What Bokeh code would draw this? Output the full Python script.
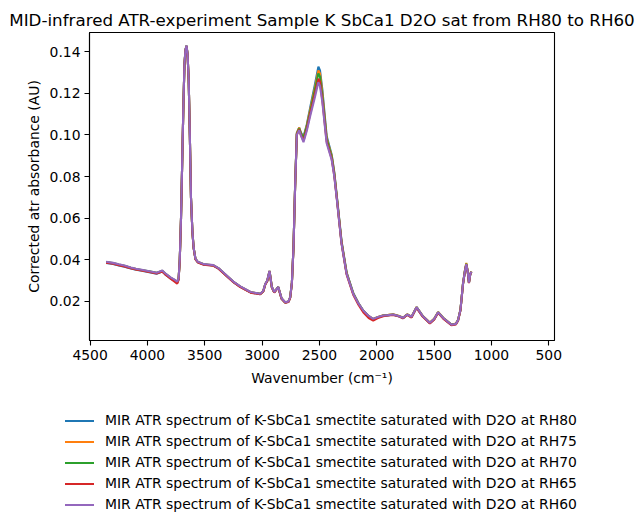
from bokeh.plotting import figure
from bokeh.layouts import column
from bokeh.models import Range1d, FixedTicker, PrintfTickFormatter, Div
from bokeh.embed import file_html
from bokeh.resources import INLINE

wavenumber = [4360, 4300, 4250, 4200, 4145, 4100, 4050, 3973, 3920, 3870, 3845, 3798, 3760, 3740, 3728,
              3718, 3707, 3697, 3687, 3677, 3668, 3659, 3650, 3640, 3630, 3620, 3608, 3597, 3581, 3560,
              3509, 3470, 3424, 3380, 3306, 3250, 3190, 3100, 3016, 2990, 2972, 2955, 2935, 2915, 2894,
              2859, 2830, 2798, 2770, 2755, 2740, 2726, 2712, 2697, 2677, 2660, 2639, 2610, 2581, 2540,
              2509, 2495, 2475, 2437, 2393, 2370, 2350, 2307, 2263, 2205, 2160, 2118, 2070, 2031, 1990,
              1944, 1900, 1857, 1810, 1770, 1735, 1697, 1653, 1600, 1537, 1500, 1465, 1420, 1349, 1310,
              1291, 1270, 1248, 1230, 1219, 1206, 1196, 1185, 1175]

rh80 = [0.0385, 0.0380, 0.0373, 0.0367, 0.0358, 0.0352, 0.0347, 0.0339, 0.0333, 0.0344, 0.0330, 0.0310, 0.0298, 0.0290, 0.0306,
        0.0398, 0.0598, 0.0858, 0.1118, 0.1338, 0.1408, 0.1426, 0.1386, 0.1262, 0.0998, 0.0698, 0.0538, 0.0457, 0.0403, 0.0388,
        0.0377, 0.0375, 0.0372, 0.0358, 0.0321, 0.0293, 0.0270, 0.0243, 0.0235, 0.0248, 0.0282, 0.0298, 0.0345, 0.0268, 0.0243,
        0.0268, 0.0213, 0.0194, 0.0198, 0.0218, 0.0290, 0.0462, 0.0755, 0.1010, 0.1035, 0.1010, 0.0990, 0.1050, 0.1130, 0.1240,
        0.1328, 0.1310, 0.1220, 0.0995, 0.0905, 0.0820, 0.0715, 0.0490, 0.0340, 0.0240, 0.0192, 0.0156, 0.0128, 0.0112, 0.0123,
        0.0131, 0.0133, 0.0136, 0.0129, 0.0119, 0.0136, 0.0124, 0.0171, 0.0128, 0.0095, 0.0113, 0.0147, 0.0118, 0.0087, 0.0091,
        0.0109, 0.0159, 0.0283, 0.0350, 0.0378, 0.0339, 0.0289, 0.0329, 0.0342]

rh75 = [0.0388, 0.0383, 0.0376, 0.0370, 0.0361, 0.0355, 0.0350, 0.0342, 0.0336, 0.0346, 0.0333, 0.0313, 0.0300, 0.0292, 0.0308,
        0.0399, 0.0599, 0.0859, 0.1119, 0.1339, 0.1409, 0.1428, 0.1388, 0.1263, 0.0999, 0.0699, 0.0539, 0.0458, 0.0404, 0.0389,
        0.0378, 0.0376, 0.0373, 0.0359, 0.0322, 0.0294, 0.0271, 0.0244, 0.0236, 0.0249, 0.0283, 0.0299, 0.0346, 0.0269, 0.0244,
        0.0269, 0.0214, 0.0195, 0.0199, 0.0219, 0.0290, 0.0461, 0.0753, 0.1008, 0.1035, 0.1005, 0.0985, 0.1045, 0.1120, 0.1225,
        0.1310, 0.1295, 0.1205, 0.0985, 0.0900, 0.0815, 0.0710, 0.0485, 0.0337, 0.0238, 0.0191, 0.0155, 0.0129, 0.0115, 0.0125,
        0.0133, 0.0135, 0.0138, 0.0131, 0.0122, 0.0138, 0.0126, 0.0173, 0.0131, 0.0098, 0.0116, 0.0149, 0.0121, 0.0089, 0.0093,
        0.0111, 0.0161, 0.0286, 0.0354, 0.0385, 0.0342, 0.0292, 0.0332, 0.0344]

rh70 = [0.0389, 0.0384, 0.0377, 0.0371, 0.0362, 0.0356, 0.0351, 0.0343, 0.0337, 0.0347, 0.0334, 0.0314, 0.0302, 0.0294, 0.0309,
        0.0399, 0.0599, 0.0859, 0.1119, 0.1339, 0.1409, 0.1429, 0.1389, 0.1264, 0.0999, 0.0699, 0.0539, 0.0458, 0.0404, 0.0389,
        0.0378, 0.0376, 0.0373, 0.0359, 0.0322, 0.0294, 0.0271, 0.0244, 0.0236, 0.0249, 0.0283, 0.0299, 0.0346, 0.0269, 0.0244,
        0.0269, 0.0214, 0.0195, 0.0199, 0.0219, 0.0290, 0.0460, 0.0752, 0.1005, 0.1030, 0.1005, 0.0985, 0.1040, 0.1110, 0.1215,
        0.1295, 0.1280, 0.1190, 0.0980, 0.0895, 0.0810, 0.0708, 0.0482, 0.0335, 0.0237, 0.0190, 0.0155, 0.0129, 0.0115, 0.0124,
        0.0132, 0.0134, 0.0137, 0.0130, 0.0121, 0.0137, 0.0125, 0.0172, 0.0130, 0.0097, 0.0115, 0.0148, 0.0120, 0.0088, 0.0092,
        0.0110, 0.0160, 0.0285, 0.0351, 0.0381, 0.0340, 0.0290, 0.0330, 0.0343]

rh65 = [0.0386, 0.0381, 0.0374, 0.0368, 0.0359, 0.0353, 0.0348, 0.0340, 0.0334, 0.0343, 0.0330, 0.0309, 0.0294, 0.0285, 0.0303,
        0.0396, 0.0597, 0.0857, 0.1117, 0.1337, 0.1407, 0.1427, 0.1387, 0.1262, 0.0997, 0.0697, 0.0537, 0.0456, 0.0402, 0.0387,
        0.0376, 0.0374, 0.0371, 0.0357, 0.0320, 0.0292, 0.0269, 0.0242, 0.0234, 0.0247, 0.0281, 0.0297, 0.0344, 0.0267, 0.0242,
        0.0267, 0.0212, 0.0193, 0.0197, 0.0217, 0.0288, 0.0458, 0.0750, 0.1002, 0.1025, 0.0998, 0.0972, 0.1028, 0.1100, 0.1195,
        0.1270, 0.1255, 0.1170, 0.0968, 0.0885, 0.0803, 0.0703, 0.0478, 0.0330, 0.0232, 0.0184, 0.0148, 0.0120, 0.0108, 0.0120,
        0.0129, 0.0132, 0.0135, 0.0128, 0.0119, 0.0135, 0.0122, 0.0169, 0.0127, 0.0094, 0.0112, 0.0145, 0.0117, 0.0085, 0.0089,
        0.0107, 0.0157, 0.0282, 0.0348, 0.0377, 0.0338, 0.0288, 0.0328, 0.0341]

rh60 = [0.0390, 0.0385, 0.0378, 0.0372, 0.0363, 0.0357, 0.0352, 0.0344, 0.0338, 0.0348, 0.0335, 0.0315, 0.0303, 0.0295, 0.0310,
        0.0400, 0.0600, 0.0860, 0.1120, 0.1340, 0.1410, 0.1430, 0.1390, 0.1265, 0.1000, 0.0700, 0.0540, 0.0459, 0.0405, 0.0390,
        0.0379, 0.0377, 0.0374, 0.0360, 0.0323, 0.0295, 0.0272, 0.0245, 0.0237, 0.0250, 0.0284, 0.0300, 0.0347, 0.0270, 0.0245,
        0.0270, 0.0215, 0.0196, 0.0200, 0.0220, 0.0290, 0.0459, 0.0750, 0.1000, 0.1022, 0.0995, 0.0965, 0.1020, 0.1090, 0.1180,
        0.1253, 0.1235, 0.1160, 0.0960, 0.0880, 0.0800, 0.0700, 0.0476, 0.0332, 0.0236, 0.0190, 0.0156, 0.0130, 0.0116, 0.0125,
        0.0132, 0.0134, 0.0137, 0.0130, 0.0121, 0.0137, 0.0126, 0.0172, 0.0130, 0.0097, 0.0115, 0.0148, 0.0120, 0.0088, 0.0092,
        0.0110, 0.0160, 0.0284, 0.0350, 0.0379, 0.0340, 0.0290, 0.0330, 0.0343]

series = [rh80, rh75, rh70, rh65, rh60]
labels = ["MIR ATR spectrum of K-SbCa1 smectite saturated with D2O at RH80",
          "MIR ATR spectrum of K-SbCa1 smectite saturated with D2O at RH75",
          "MIR ATR spectrum of K-SbCa1 smectite saturated with D2O at RH70",
          "MIR ATR spectrum of K-SbCa1 smectite saturated with D2O at RH65",
          "MIR ATR spectrum of K-SbCa1 smectite saturated with D2O at RH60"]
colors = ["#1f77b4", "#ff7f0e", "#2ca02c", "#d62728", "#9467bd"]

x_ticks = [4500, 4000, 3500, 3000, 2500, 2000, 1500, 1000, 500]
y_ticks = [0.02, 0.04, 0.06, 0.08, 0.10, 0.12, 0.14]

title_text = "MID-infrared ATR-experiment Sample K SbCa1 D2O sat from RH80 to RH60"
x_label = "Wavenumber (cm\u207b\u00b9)"
y_label = "Corrected atr absorbance (AU)"

FONT = "DejaVu Sans"
W = 642
H1, H2 = 395, 132

p = figure(width=W, height=H1, output_backend="svg", toolbar_location=None,
           x_range=Range1d(4505, 450), y_range=Range1d(0.0012, 0.1492),
           min_border_left=89, min_border_right=88, min_border_top=32, min_border_bottom=H1 - 340,
           title=title_text)
p.background_fill_color = "white"
p.border_fill_color = "white"
p.outline_line_color = "black"
p.outline_line_width = 1.1
p.grid.visible = False

p.title.text_font = FONT
p.title.text_font_size = "16.7px"
p.title.text_font_style = "normal"
p.title.text_color = "black"
p.title.align = "center"
p.title.standoff = 5

for ys, col in zip(series, colors):
    p.line(wavenumber, ys, line_color=col, line_width=2.1)

for ax in (p.xaxis[0], p.yaxis[0]):
    ax.axis_line_color = "black"
    ax.axis_line_width = 1.1
    ax.major_tick_line_color = "black"
    ax.major_tick_line_width = 1.1
    ax.major_tick_out = 5
    ax.major_tick_in = 0
    ax.minor_tick_line_color = None
    ax.major_label_text_font = FONT
    ax.major_label_text_font_size = "13.9px"
    ax.major_label_text_color = "black"
    ax.axis_label_text_font = FONT
    ax.axis_label_text_font_size = "13.9px"
    ax.axis_label_text_font_style = "normal"
    ax.axis_label_text_color = "black"

p.xaxis.ticker = FixedTicker(ticks=x_ticks)
p.xaxis.formatter = PrintfTickFormatter(format="%d")
p.xaxis.axis_label = x_label
p.xaxis.major_label_standoff = 4
p.xaxis.axis_label_standoff = 7

p.yaxis.ticker = FixedTicker(ticks=y_ticks)
p.yaxis.formatter = PrintfTickFormatter(format="%.2f")
p.yaxis.axis_label = y_label
p.yaxis.major_label_standoff = 4
p.yaxis.axis_label_standoff = 5

# legend (below the axes, centred like the original)
rows = []
for lab, col in zip(labels, colors):
    rows.append(
        '<div style="height:21px;line-height:21px;white-space:nowrap;">'
        '<span style="display:inline-block;width:29px;height:0;border-top:2px solid %s;'
        'vertical-align:middle;margin-right:11px;"></span>%s</div>' % (col, lab))
legend_html = ('<div style="font-family:\'DejaVu Sans\';font-size:13.9px;color:#000;'
               'padding-left:65px;padding-top:14.5px;">' + "".join(rows) + '</div>')
legend_div = Div(text=legend_html, width=W, height=H2, margin=0)

layout = column(p, legend_div, spacing=0)
open("out.html", "w").write(file_html(layout, INLINE))
